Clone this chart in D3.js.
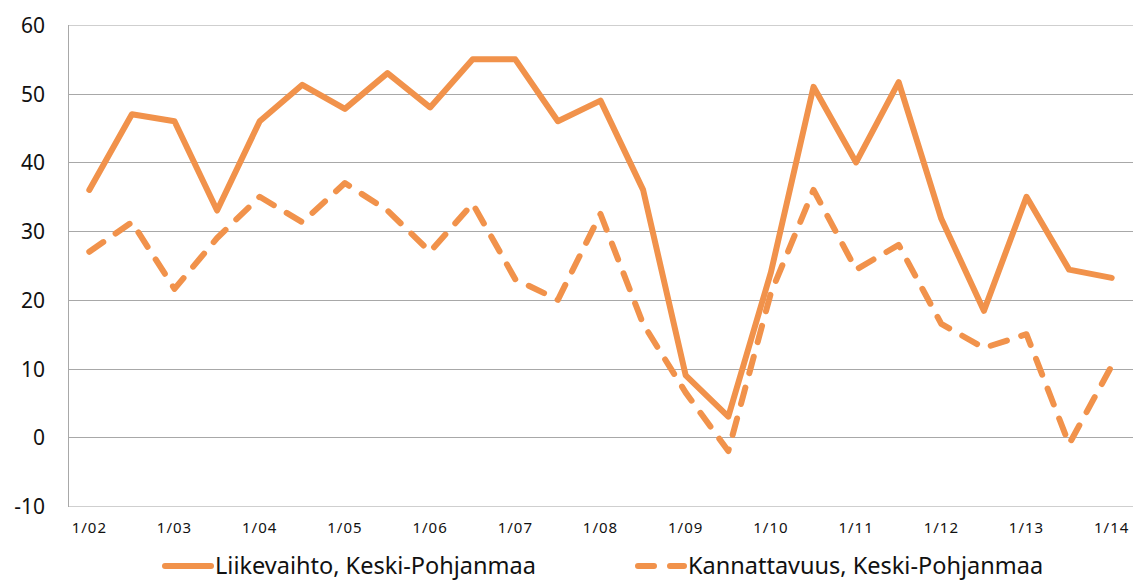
<!DOCTYPE html>
<html>
<head>
<meta charset="utf-8">
<script src="https://cdn.jsdelivr.net/npm/d3@7"></script>
<style>
  body { margin: 0; background: #fff; }
  svg { display: block; }
</style>
</head>
<body>
<div id="chart"></div>
<script>
var svgWidth = 1135;
var svgHeight = 580;

// half-year periods, label only on 1/yy
var periods = ["1/02","7/02","1/03","7/03","1/04","7/04","1/05","7/05","1/06","7/06",
  "1/07","7/07","1/08","7/08","1/09","7/09","1/10","7/10","1/11","7/11",
  "1/12","7/12","1/13","7/13","1/14"];
var tickLabels = ["1/02","1/03","1/04","1/05","1/06","1/07","1/08","1/09","1/10","1/11","1/12","1/13","1/14"];
var yTicks = [-10, 0, 10, 20, 30, 40, 50, 60];

var liikevaihto = [36, 47, 46, 33, 46, 51.3, 47.8, 53, 48, 55, 55, 46, 49, 36, 9, 3,
  24, 51, 40, 51.7, 31.8, 18.4, 35, 24.4, 23.2];
var kannattavuus = [27, 31.3, 21.6, 29, 35, 31.3, 37, 33, 27, 34, 23, 20, 32.5, 16.5, 6.5, -2,
  21, 36, 24.4, 28, 16.5, 13, 15, -1, 10.4];

var seriesNames = ["Liikevaihto, Keski-Pohjanmaa", "Kannattavuus, Keski-Pohjanmaa"];
var orange = "#F1924B";

var chartMargin = { top: 25, right: 2, bottom: 74, left: 68 };
var chartWidth = svgWidth - chartMargin.left - chartMargin.right;
var chartHeight = svgHeight - chartMargin.top - chartMargin.bottom;

var svg = d3.select("#chart")
  .append("svg")
  .attr("width", svgWidth)
  .attr("height", svgHeight);

var chartGroup = svg.append("g")
  .attr("transform", `translate(${chartMargin.left}, ${chartMargin.top})`);

var xScale = d3.scaleBand()
  .domain(periods)
  .range([0, chartWidth]);

var yScale = d3.scaleLinear()
  .domain([-10, 60])
  .range([chartHeight, 0]);

function xPos(d, i) { return xScale(periods[i]) + xScale.bandwidth() / 2; }

// gridlines
chartGroup.selectAll(".grid")
  .data(yTicks)
  .enter()
  .append("line")
  .attr("class", "grid")
  .attr("x1", 0)
  .attr("x2", chartWidth)
  .attr("y1", d => Math.round(yScale(d)) + 0.5)
  .attr("y2", d => Math.round(yScale(d)) + 0.5)
  .attr("stroke", d => (d === -10 || d === 60) ? "#cfcfcf" : "#a8a8a8")
  .attr("stroke-width", 1);

// left axis line
chartGroup.append("line")
  .attr("x1", 0.5).attr("x2", 0.5)
  .attr("y1", Math.round(yScale(60)))
  .attr("y2", Math.round(yScale(-10)) + 1)
  .attr("stroke", "#a8a8a8");

// y labels (plain hyphen for negatives, like the original)
var yAxis = d3.axisLeft(yScale).tickValues(yTicks).tickFormat(d => String(d))
  .tickSize(0).tickPadding(23);
chartGroup.append("g")
  .attr("class", "axis")
  .call(yAxis)
  .call(g => g.select(".domain").remove())
  .selectAll("text")
  .attr("font-family", "'Noto Sans', sans-serif")
  .attr("font-size", "21px")
  .attr("fill", "#111")
  .attr("dy", "0.36em");

// x labels
var xAxis = d3.axisBottom(xScale).tickValues(tickLabels).tickSize(0).tickPadding(16);
chartGroup.append("g")
  .attr("class", "axis")
  .attr("transform", `translate(0, ${chartHeight})`)
  .call(xAxis)
  .call(g => g.select(".domain").remove())
  .selectAll("text")
  .attr("font-family", "'Noto Sans', sans-serif")
  .attr("font-size", "15px")
  .attr("letter-spacing", "1px")
  .attr("fill", "#111");

var line = d3.line()
  .x(xPos)
  .y(d => yScale(d));

chartGroup.append("path")
  .datum(kannattavuus)
  .attr("fill", "none")
  .attr("stroke", orange)
  .attr("stroke-width", 6)
  .attr("stroke-linecap", "round")
  .attr("stroke-linejoin", "round")
  .attr("stroke-dasharray", "17,15")
  .attr("d", line);

chartGroup.append("path")
  .datum(liikevaihto)
  .attr("fill", "none")
  .attr("stroke", orange)
  .attr("stroke-width", 6)
  .attr("stroke-linecap", "round")
  .attr("stroke-linejoin", "round")
  .attr("d", line);

// legend
var legendItems = [
  { name: seriesNames[0], x: 162, dash: null },
  { name: seriesNames[1], x: 635, dash: "16,16" }
];
var legend = svg.selectAll(".legend")
  .data(legendItems)
  .enter()
  .append("g")
  .attr("class", "legend")
  .attr("transform", d => `translate(${d.x}, 566)`);

legend.append("line")
  .attr("x1", 3).attr("x2", 49)
  .attr("y1", 0).attr("y2", 0)
  .attr("stroke", orange)
  .attr("stroke-width", 6)
  .attr("stroke-linecap", "round")
  .attr("stroke-dasharray", d => d.dash);

legend.append("text")
  .attr("x", 53)
  .attr("y", 7.5)
  .attr("font-family", "'Noto Sans', sans-serif")
  .attr("font-size", "23.5px")
  .attr("fill", "#111")
  .text(d => d.name);
</script>
</body>
</html>
